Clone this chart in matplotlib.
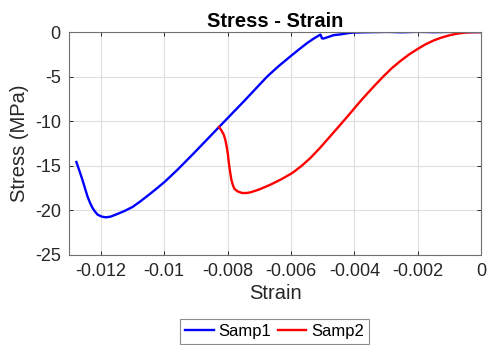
import matplotlib
matplotlib.use('Agg')
import matplotlib.pyplot as plt

plt.rcParams['font.family'] = ['Liberation Sans', 'DejaVu Sans']
plt.rcParams['axes.unicode_minus'] = False

# Samp1 (blue)
strain1 = [-0.01277, -0.01268, -0.01258, -0.01250, -0.01242, -0.01234, -0.01226,
           -0.01218, -0.01210, -0.01197, -0.01184, -0.01169, -0.01153, -0.01127,
           -0.01100, -0.01074, -0.01048, -0.01022, -0.00997, -0.00958, -0.00906,
           -0.00827, -0.00749, -0.00675, -0.00640, -0.00602, -0.00575, -0.00549,
           -0.00528, -0.00507, -0.00502, -0.00497, -0.00480, -0.00465, -0.00444,
           -0.00420, -0.00402, -0.00360, -0.00300, -0.00250, -0.00200, -0.00150,
           -0.00100, -0.00050, 0.0]
stress1 = [-14.57, -15.50, -16.56, -17.50, -18.43, -19.15, -19.73,
           -20.15, -20.48, -20.70, -20.78, -20.70, -20.48, -20.10,
           -19.62, -18.96, -18.24, -17.50, -16.75, -15.44, -13.57,
           -10.65, -7.78, -4.98, -3.85, -2.73, -1.95, -1.23,
           -0.72, -0.28, -0.71, -0.72, -0.52, -0.34, -0.26,
           -0.12, -0.05, -0.02, 0.02, -0.02, 0.03, -0.01,
           0.02, 0.0, 0.0]

# Samp2 (red)
strain2 = [-0.00827, -0.00820, -0.00812, -0.00807, -0.00803, -0.00799, -0.00796,
           -0.00792, -0.00788, -0.00783, -0.00778, -0.00768, -0.00754, -0.00740,
           -0.00728, -0.00700, -0.00665, -0.00630, -0.00596, -0.00568, -0.00539,
           -0.00510, -0.00481, -0.00447, -0.00413, -0.00387, -0.00360, -0.00334,
           -0.00308, -0.00282, -0.00255, -0.00229, -0.00203, -0.00177, -0.00150,
           -0.00124, -0.00098, -0.00072, -0.00045, -0.00020, 0.0]
stress2 = [-10.65, -11.00, -11.51, -12.10, -12.82, -13.70, -14.69,
           -15.70, -16.56, -17.20, -17.60, -17.88, -18.05, -18.05,
           -17.98, -17.65, -17.12, -16.50, -15.81, -15.05, -14.13,
           -13.05, -11.88, -10.50, -9.10, -8.00, -6.92, -5.92,
           -4.95, -4.05, -3.25, -2.55, -1.95, -1.40, -0.94,
           -0.60, -0.34, -0.15, -0.04, -0.01, 0.0]

xticks = [-0.012, -0.01, -0.008, -0.006, -0.004, -0.002, 0]
xticklabels = ['-0.012', '-0.01', '-0.008', '-0.006', '-0.004', '-0.002', '0']
yticks = [-25, -20, -15, -10, -5, 0]

fig = plt.figure(figsize=(4.9, 3.45), dpi=100)
ax = fig.add_axes([0.141, 0.261, 0.841, 0.646])

l1, = ax.plot(strain1, stress1, color='#0000ff', linewidth=1.7, label='Samp1')
l2, = ax.plot(strain2, stress2, color='#ff0000', linewidth=1.7, label='Samp2')

ax.set_xlim(-0.013, 0)
ax.set_ylim(-25, 0)
ax.set_xticks(xticks)
ax.set_xticklabels(xticklabels)
ax.set_yticks(yticks)
ax.grid(True, color='#dedede', linewidth=0.8)
ax.set_axisbelow(True)
ax.tick_params(direction='in', length=3, width=0.7, colors='#262626',
               labelsize=13, top=True, right=True, pad=6)
for s in ax.spines.values():
    s.set_color('#707070')
    s.set_linewidth(0.8)

ax.set_title('Stress - Strain', fontsize=14.5, fontweight='bold', pad=4)
ax.set_xlabel('Strain', fontsize=14.5, color='#262626', labelpad=3)
ax.set_ylabel('Stress (MPa)', fontsize=14.5, color='#262626', labelpad=4)

leg = fig.legend(handles=[l1, l2], loc='upper center', ncol=2,
                 bbox_to_anchor=(0.561, 0.0754), bbox_transform=fig.transFigure,
                 fontsize=12, frameon=True, fancybox=False, handlelength=1.7,
                 handletextpad=0.3, columnspacing=0.4, borderpad=0.3,
                 borderaxespad=0)
leg.get_frame().set_edgecolor('#707070')
leg.get_frame().set_linewidth(0.8)

fig.savefig('out.png', dpi=100)
